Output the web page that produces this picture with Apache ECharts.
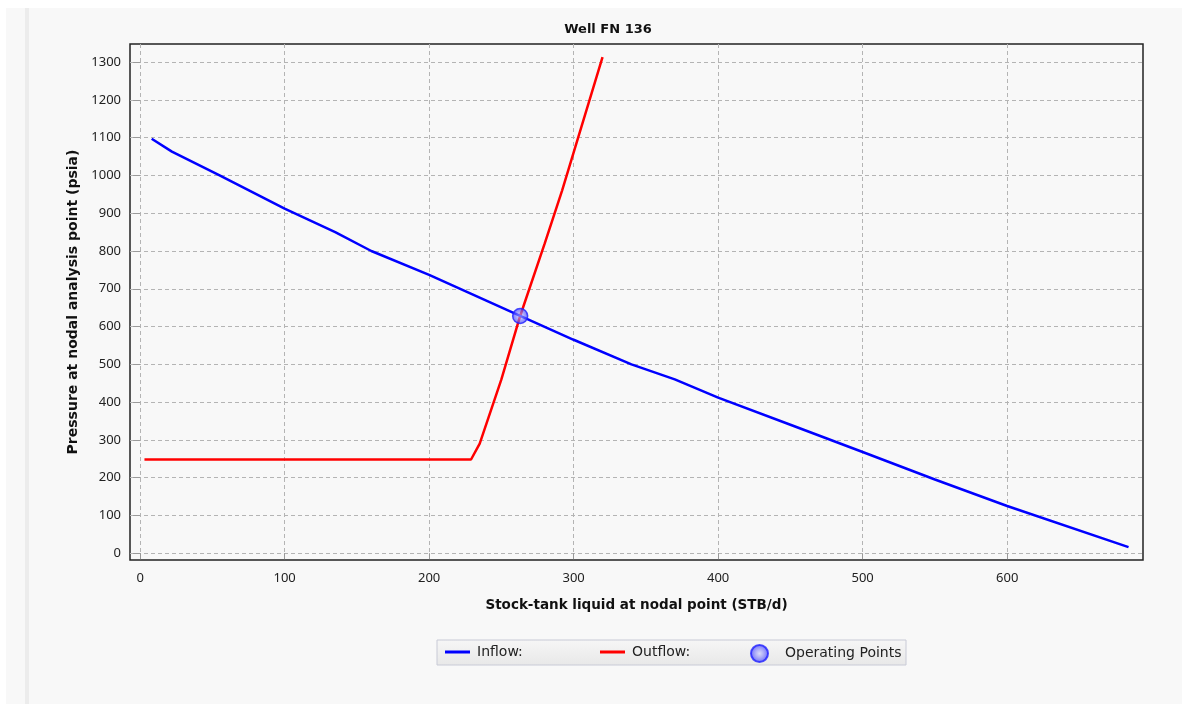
<!DOCTYPE html>
<html><head><meta charset="utf-8">
<script src="https://cdn.jsdelivr.net/npm/echarts@6/dist/echarts.min.js"></script>
<style>html,body{margin:0;padding:0;background:#fff}#c{width:1182px;height:704px}</style>
</head><body><div id="c"></div>
<script>
const titleText = 'Well FN 136';
const xName = 'Stock-tank liquid at nodal point (STB/d)';
const yName = 'Pressure at nodal analysis point (psia)';
const xTicks = [0, 100, 200, 300, 400, 500, 600];
const yTicks = [0, 100, 200, 300, 400, 500, 600, 700, 800, 900, 1000, 1100, 1200, 1300];
const inflow = [[8,1097],[22,1063],[55,1000],[100,912],[135,850],[160,800],[200,737],[263,628],[300,565],[340,500],[370,460],[400,412],[450,340],[500,268],[550,195],[600,125],[684,16]];
const outflow = [[3,248],[229,248],[235,290],[250,460],[263,628],[280,820],[292,960],[320,1313]];
const operating = [[263,628]];

const font = 'Noto Sans';
const bfont = 'DejaVu Sans';
const chart = echarts.init(document.getElementById('c'), null, {renderer:'canvas'});
chart.setOption({
  animation: false,
  backgroundColor: '#ffffff',
  graphic: [
    {type:'rect', shape:{x:6,y:8,width:1176,height:696}, style:{fill:'#f8f8f8'}, z:-10},
    {type:'rect', shape:{x:25,y:8,width:4,height:696}, style:{fill:'#ececec'}, z:-9},
    {type:'rect', shape:{x:437,y:640,width:469,height:25}, z:-5,
     style:{fill:new echarts.graphic.LinearGradient(0,0,0,1,[{offset:0,color:'#f6f6f6'},{offset:1,color:'#e8e8e8'}]), stroke:'#c8cad6', lineWidth:1}}
  ],
  title: {text:titleText, left:603, top:18, textAlign:'center',
    textStyle:{fontFamily:bfont, fontSize:13, fontWeight:'bold', color:'#111'}},
  grid: {left:130, top:44, right:39, bottom:144, show:true, backgroundColor:'#f8f8f8', borderColor:'#222', borderWidth:1.5},
  legend: [
    {data:['Inflow:'], left:445, top:645, icon:'rect', itemWidth:25, itemHeight:3, itemGap:0, padding:0,
     textStyle:{fontFamily:bfont, fontSize:14, color:'#222', padding:[0,0,0,2]}},
    {data:['Outflow:'], left:600, top:645, icon:'rect', itemWidth:25, itemHeight:3, itemGap:0, padding:0,
     textStyle:{fontFamily:bfont, fontSize:14, color:'#222', padding:[0,0,0,2]}},
    {data:['Operating Points'], left:750, top:644, itemWidth:17, itemHeight:17, itemGap:0, padding:0,
     textStyle:{fontFamily:bfont, fontSize:14, color:'#222', padding:[0,0,0,12]}}
  ],
  xAxis: {type:'value', min:-7, max:694, name:xName, nameLocation:'middle', nameGap:38,
    nameTextStyle:{fontFamily:bfont, fontSize:13.5, fontWeight:'bold', color:'#111'},
    axisLine:{show:false},
    axisTick:{show:true, customValues:xTicks, length:6, lineStyle:{color:'#999'}},
    axisLabel:{customValues:xTicks, margin:12, fontFamily:font, fontSize:13, color:'#222'},
    splitLine:{show:true, lineStyle:{color:'#b4b4b4', type:[4,3], width:1}}},
  yAxis: {type:'value', min:-18, max:1348, name:yName, nameLocation:'middle', nameGap:50,
    nameTextStyle:{fontFamily:bfont, fontSize:14, fontWeight:'bold', color:'#111'},
    axisLine:{show:false},
    axisTick:{show:true, customValues:yTicks, length:7, lineStyle:{color:'#999'}},
    axisLabel:{customValues:yTicks, margin:9, fontFamily:font, fontSize:13, color:'#222', formatter:v=>String(v)},
    splitLine:{show:true, lineStyle:{color:'#b4b4b4', type:[4,3], width:1}}},
  series: [
    {name:'Inflow:', type:'line', data:inflow, showSymbol:false, symbol:'none', lineStyle:{color:'#0000ff', width:2.5}, itemStyle:{color:'#0000ff'}, z:3},
    {name:'Outflow:', type:'line', data:outflow, showSymbol:false, symbol:'none', lineStyle:{color:'#ff0000', width:2.5}, itemStyle:{color:'#ff0000'}, z:2},
    {name:'Operating Points', type:'scatter', data:operating, symbol:'circle', symbolSize:15, z:4,
     itemStyle:{color:new echarts.graphic.RadialGradient(0.5,0.5,0.5,[{offset:0,color:'rgba(200,200,255,0.7)'},{offset:1,color:'rgba(50,50,255,0.9)'}]),
       borderColor:'#2020ff', borderWidth:1.5}}
  ]
});
</script></body></html>
